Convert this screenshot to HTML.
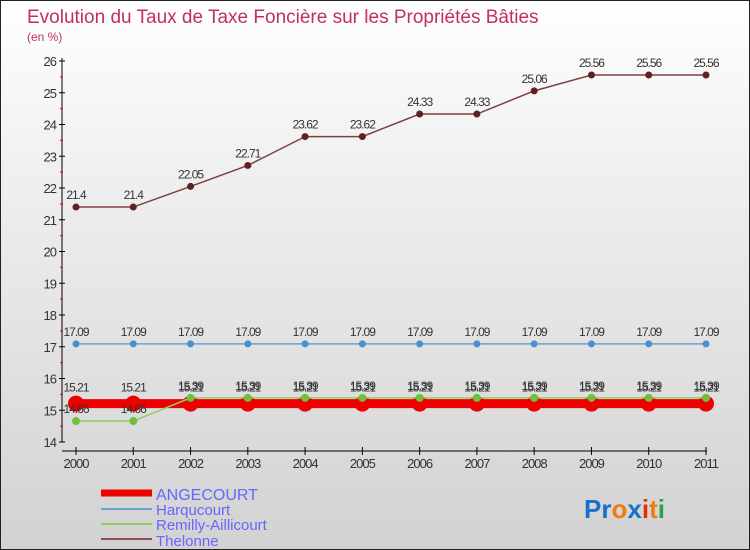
<!DOCTYPE html>
<html><head><meta charset="utf-8"><style>
body{margin:0}
#c{width:750px;height:550px;position:relative;box-sizing:border-box;border:1px solid #222;background:linear-gradient(#fff,#f0f0f0 30%,#d2d2d2);font-family:"Liberation Sans",sans-serif;overflow:hidden}
</style></head><body>
<div id="c">
<svg id="s" width="750" height="550" style="position:absolute;left:0;top:0">
<text x="26" y="22" font-size="19" fill="#c0305a">Evolution du Taux de Taxe Foncière sur les Propriétés Bâties</text>
<text x="26" y="40" font-size="12" fill="#c0305a">(en %)</text>
<g id="g"></g>
<g>
<line x1="100" y1="492" x2="151" y2="492" stroke="#e00" stroke-width="7"/>
<text x="155" y="499" font-size="16" fill="#66f">ANGECOURT</text>
<line x1="100" y1="508" x2="151" y2="508" stroke="#6aa0d0" stroke-width="2"/>
<text x="155" y="514" font-size="15" fill="#66f">Harqucourt</text>
<line x1="100" y1="523" x2="151" y2="523" stroke="#8cd060" stroke-width="2"/>
<text x="155" y="529" font-size="15" fill="#66f">Remilly-Aillicourt</text>
<line x1="100" y1="538" x2="151" y2="538" stroke="#905050" stroke-width="2"/>
<text x="155" y="545" font-size="15" fill="#66f">Thelonne</text>
</g>
<text x="583" y="517" font-size="26" font-weight="bold"><tspan fill="#1a70c8">Pr</tspan><tspan fill="#f07c10">o</tspan><tspan fill="#1a70c8">x</tspan><tspan fill="#e03010">i</tspan><tspan fill="#f07c10">t</tspan><tspan fill="#30a040">i</tspan></text>
</svg>
</div>
<script>
const years=["2000","2001","2002","2003","2004","2005","2006","2007","2008","2009","2010","2011"];
const yTicks=[14,15,16,17,18,19,20,21,22,23,24,25,26];
const angecourt=[15.21,15.21,15.21,15.21,15.21,15.21,15.21,15.21,15.21,15.21,15.21,15.21];
const harqucourt=[17.09,17.09,17.09,17.09,17.09,17.09,17.09,17.09,17.09,17.09,17.09,17.09];
const remilly=[14.66,14.66,15.39,15.39,15.39,15.39,15.39,15.39,15.39,15.39,15.39,15.39];
const thelonne=[21.4,21.4,22.05,22.71,23.62,23.62,24.33,24.33,25.06,25.56,25.56,25.56];
const NS="http://www.w3.org/2000/svg",g=document.getElementById('g');
const X=i=>75+i*(705-75)/(years.length-1);
const Y=v=>441-(v-14)*(441-60)/12;
function mk(t,a,p){const e=document.createElementNS(NS,t);for(const k in a)e.setAttribute(k,a[k]);(p||g).appendChild(e);return e;}
let e=mk('line',{x1:61,y1:57,x2:61,y2:441,stroke:'#000'});


e=mk('line',{x1:61,y1:450,x2:706,y2:450,stroke:'#000'});


yTicks.forEach(v=>{mk('line',{x1:58,x2:64,y1:Y(v),y2:Y(v),stroke:'#000'});
 if(v<26)mk('line',{x1:59,x2:62,y1:Y(v+0.5),y2:Y(v+0.5),stroke:'#e00'});
 const t=mk('text',{x:55,y:Y(v)+5,'text-anchor':'end','font-size':13,fill:'#333','letter-spacing':'-1'});t.textContent=v;
 
 });
years.forEach((y,i)=>{mk('line',{x1:X(i),x2:X(i),y1:446,y2:454,stroke:'#000'});
 const t=mk('text',{x:X(i),y:467,'text-anchor':'middle','font-size':13,fill:'#333','letter-spacing':'-1'});t.textContent=y;
 
 });
function series(name,vals,col,w,r,fill,lab){
 const pts=vals.map((v,i)=>X(i)+','+Y(v)).join(' ');
 const l=mk('polyline',{points:pts,fill:'none',stroke:col,'stroke-width':w});
 
 
 vals.forEach((v,i)=>{const c=mk('circle',{cx:X(i),cy:Y(v),r:r,fill:fill});
  
  
  const t=mk('text',{x:X(i),y:Y(v)-8+(lab||0),'text-anchor':'middle','font-size':12,fill:'#333','letter-spacing':'-1'});t.textContent=v;
  
  });
}
series('angecourt',angecourt,'#e00',9,8,'#e00',-4);
series('harqucourt',harqucourt,'#6aa0d0',1.5,3.5,'#4a90d0');
series('remilly',remilly,'#8cd060',1.5,4,'#70c040');
series('thelonne',thelonne,'#804040',1.5,3.5,'#602020');
</script>
</body></html>
